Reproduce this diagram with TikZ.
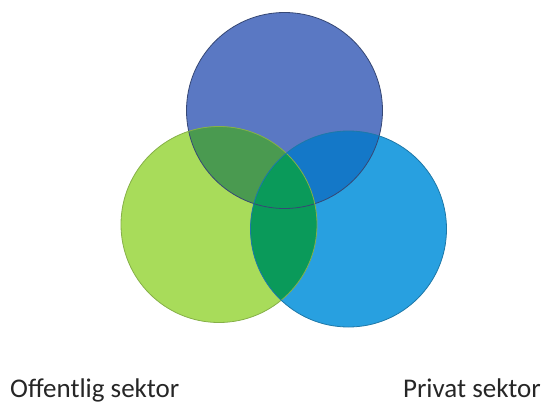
\documentclass[tikz,border=0pt]{standalone}
\usepackage{fontspec}
\setmainfont{Carlito}
\usetikzlibrary{positioning}
\definecolor{topblue}{RGB}{90,120,195}
\definecolor{leftgreen}{RGB}{168,220,90}
\definecolor{rightblue}{RGB}{40,160,224}
\definecolor{topleft}{RGB}{74,154,80}
\definecolor{topright}{RGB}{20,120,200}
\definecolor{leftright}{RGB}{10,154,90}

\begin{document}
\begin{tikzpicture}[x=1pt, y=-1pt,
	label/.style={inner sep=0pt, font=\fontsize{27}{30}\selectfont, text=black!85}]
	\useasboundingbox (0,0) rectangle (543,407);
	\coordinate (T) at (284.5,110.5);
	\coordinate (L) at (219,224.5);
	\coordinate (R) at (348.5,229);
	\def\rad{98}
	% circles
	\fill [topblue] (T) circle (\rad);
	\fill [leftgreen] (L) circle (\rad);
	\fill [rightblue] (R) circle (\rad);
	% overlaps
	\begin{scope}
		\clip (T) circle (\rad);
		\fill [topleft] (L) circle (\rad);
		\fill [topright] (R) circle (\rad);
	\end{scope}
	\begin{scope}
		\clip (L) circle (\rad);
		\fill [leftright] (R) circle (\rad);
	\end{scope}
	% outlines
	\draw [topblue!60!black, line width=0.8pt] (T) circle (\rad);
	\draw [leftgreen!80!black, line width=0.8pt] (L) circle (\rad);
	\draw [rightblue!75!black, line width=0.8pt] (R) circle (\rad);
	\node [label, anchor=base west] (pub) at (10,397) {Offentlig sektor};
	\node [label, anchor=base east] (priv) at (541,397) {Privat sektor};
\end{tikzpicture}
\end{document}
